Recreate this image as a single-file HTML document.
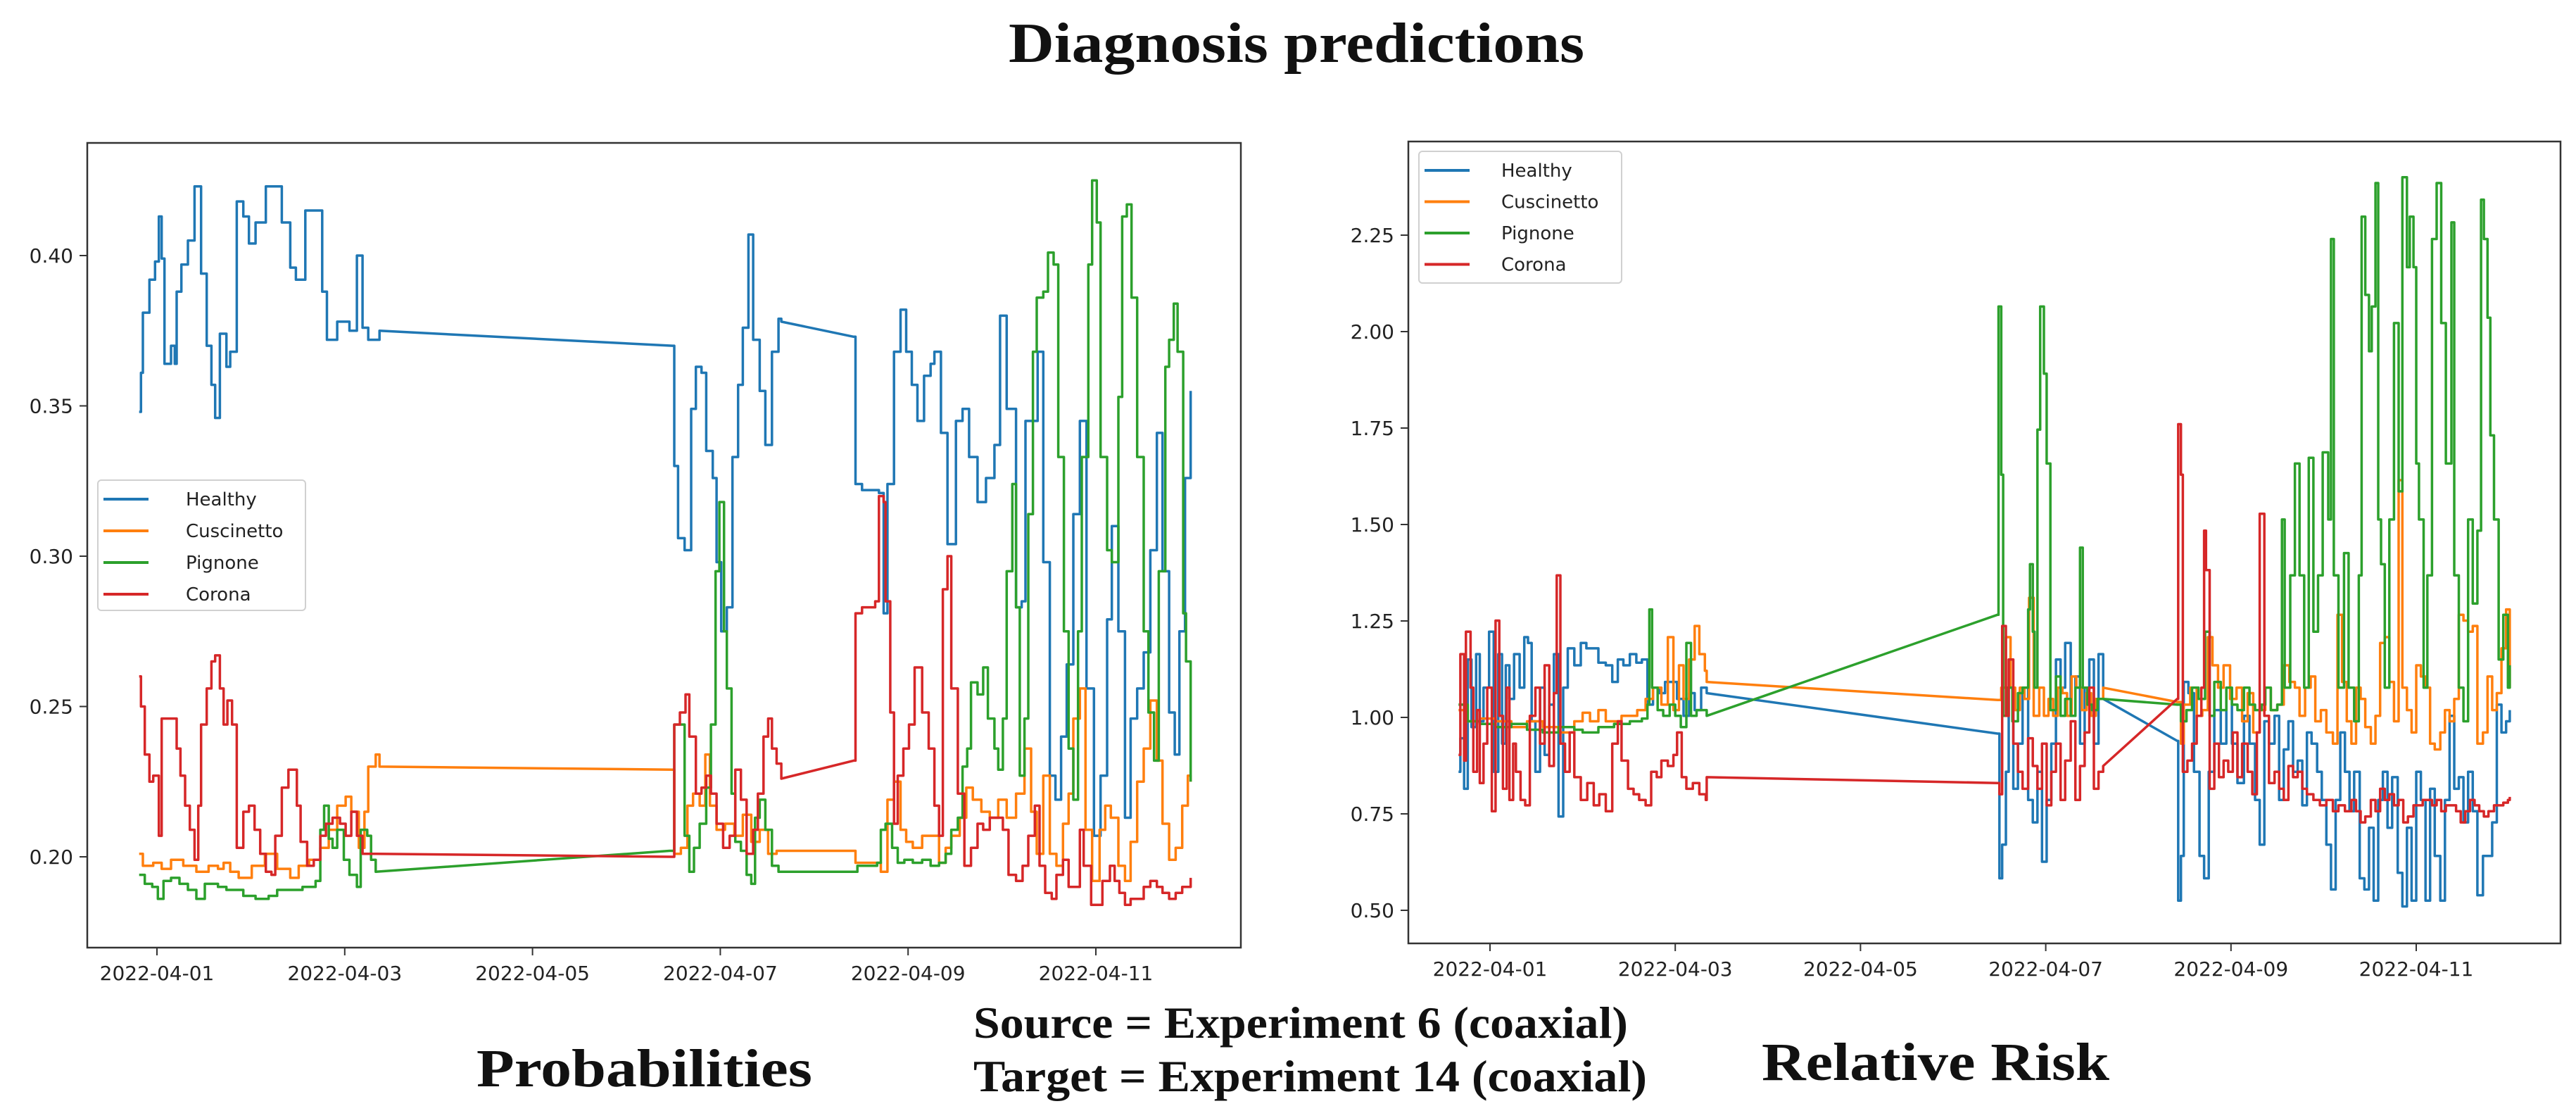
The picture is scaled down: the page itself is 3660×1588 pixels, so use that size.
<!DOCTYPE html>
<html><head><meta charset="utf-8">
<style>
html,body{margin:0;padding:0;background:#fff;}
svg{display:block;}
</style></head>
<body>
<svg id="fig" xmlns="http://www.w3.org/2000/svg" width="3660" height="1588" viewBox="0 0 3660 1588">
<rect width="3660" height="1588" fill="#fff"/>
<text x="1433" y="88" textLength="818" lengthAdjust="spacingAndGlyphs" font-family="Liberation Serif, serif" font-weight="bold" font-size="80" fill="#111">Diagnosis predictions</text>
<text x="677" y="1543" textLength="477" lengthAdjust="spacingAndGlyphs" font-family="Liberation Serif, serif" font-weight="bold" font-size="76" fill="#111">Probabilities</text>
<text x="1383" y="1474" textLength="930" lengthAdjust="spacingAndGlyphs" font-family="Liberation Serif, serif" font-weight="bold" font-size="64" fill="#111">Source = Experiment 6 (coaxial)</text>
<text x="1383" y="1550" textLength="957" lengthAdjust="spacingAndGlyphs" font-family="Liberation Serif, serif" font-weight="bold" font-size="64" fill="#111">Target = Experiment 14 (coaxial)</text>
<text x="2503" y="1534" textLength="494" lengthAdjust="spacingAndGlyphs" font-family="Liberation Serif, serif" font-weight="bold" font-size="76" fill="#111">Relative Risk</text>
<g id="left"></g>
<g id="right"></g>
</svg>
<script>
const seriesNames = ["Healthy","Cuscinetto","Pignone","Corona"];
const seriesColors = ["#1f77b4","#ff7f0e","#2ca02c","#d62728"];
const dateTicks = ["2022-04-01","2022-04-03","2022-04-05","2022-04-07","2022-04-09","2022-04-11"];
const dateTickDays = [0,2,4,6,8,10];
const probTicks = [0.20,0.25,0.30,0.35,0.40];
const riskTicks = [0.50,0.75,1.00,1.25,1.50,1.75,2.00,2.25];

// Probabilities (x = days since 2022-04-01, y = probability)
const probHealthy = [[-0.19,.348],[-0.17,.361],[-0.15,.381],[-0.08,.392],[-0.02,.398],[0.02,.413],[0.05,.399],[0.08,.364],[0.15,.370],[0.19,.364],[0.21,.388],[0.26,.397],[0.33,.405],[0.40,.423],[0.45,.423],[0.47,.394],[0.53,.370],[0.58,.357],[0.62,.346],[0.67,.374],[0.74,.363],[0.78,.368],[0.85,.418],[0.92,.413],[0.98,.404],[1.05,.411],[1.16,.423],[1.28,.423],[1.33,.411],[1.42,.396],[1.48,.392],[1.58,.415],[1.72,.415],[1.76,.388],[1.81,.372],[1.92,.378],[2.05,.375],[2.13,.400],[2.19,.376],[2.25,.372],[2.37,.375],[5.49,.370],[5.51,.330],[5.55,.306],[5.62,.302],[5.69,.349],[5.74,.363],[5.80,.361],[5.85,.335],[5.92,.326],[5.96,.298],[6.01,.275],[6.07,.283],[6.13,.333],[6.19,.357],[6.24,.376],[6.30,.407],[6.35,.372],[6.42,.355],[6.48,.337],[6.55,.368],[6.62,.379],[6.65,.378],[7.42,.373],[7.44,.324],[7.51,.322],[7.69,.321],[7.74,.281],[7.78,.324],[7.85,.368],[7.92,.382],[7.98,.368],[8.04,.357],[8.10,.345],[8.17,.360],[8.24,.364],[8.28,.368],[8.35,.341],[8.42,.304],[8.51,.345],[8.58,.349],[8.65,.333],[8.74,.318],[8.83,.326],[8.92,.337],[8.98,.380],[9.05,.349],[9.15,.283],[9.21,.285],[9.25,.345],[9.33,.345],[9.38,.368],[9.44,.298],[9.51,.227],[9.57,.219],[9.63,.240],[9.69,.264],[9.76,.314],[9.83,.345],[9.90,.256],[9.98,.207],[10.05,.227],[10.12,.279],[10.17,.310],[10.24,.275],[10.31,.213],[10.37,.246],[10.44,.256],[10.51,.268],[10.58,.302],[10.65,.341],[10.71,.295],[10.78,.248],[10.84,.234],[10.89,.275],[10.95,.326],[11.01,.355]];
const probCuscinetto = [[-0.19,.201],[-0.15,.197],[-0.04,.198],[0.05,.196],[0.15,.199],[0.28,.197],[0.42,.195],[0.55,.197],[0.65,.196],[0.71,.198],[0.78,.195],[0.87,.193],[1.01,.197],[1.15,.201],[1.28,.196],[1.42,.193],[1.51,.197],[1.62,.199],[1.74,.203],[1.83,.209],[1.92,.217],[2.01,.220],[2.07,.215],[2.15,.203],[2.21,.215],[2.25,.230],[2.33,.234],[2.37,.230],[5.49,.229],[5.51,.201],[5.58,.203],[5.65,.217],[5.71,.221],[5.78,.217],[5.84,.234],[5.89,.217],[5.96,.209],[6.05,.211],[6.15,.207],[6.24,.214],[6.33,.205],[6.42,.209],[6.51,.201],[6.60,.202],[7.42,.202],[7.44,.198],[7.67,.198],[7.71,.195],[7.78,.219],[7.85,.225],[7.92,.209],[7.98,.205],[8.05,.203],[8.15,.207],[8.24,.207],[8.33,.198],[8.40,.203],[8.46,.207],[8.55,.213],[8.62,.223],[8.69,.219],[8.78,.215],[8.87,.213],[8.96,.219],[9.05,.213],[9.15,.221],[9.24,.236],[9.31,.215],[9.37,.201],[9.44,.227],[9.51,.201],[9.58,.197],[9.65,.211],[9.71,.221],[9.76,.246],[9.83,.256],[9.89,.209],[9.96,.192],[10.04,.209],[10.10,.217],[10.16,.213],[10.24,.197],[10.31,.192],[10.37,.205],[10.44,.225],[10.51,.236],[10.58,.252],[10.65,.232],[10.71,.211],[10.78,.199],[10.85,.203],[10.92,.217],[10.98,.227],[11.01,.225]];
const probPignone = [[-0.19,.194],[-0.13,.191],[-0.05,.190],[0.01,.186],[0.07,.192],[0.15,.193],[0.24,.191],[0.33,.189],[0.42,.186],[0.51,.191],[0.65,.190],[0.74,.189],[0.83,.189],[0.92,.187],[1.05,.186],[1.19,.187],[1.28,.189],[1.42,.189],[1.55,.190],[1.69,.192],[1.74,.209],[1.78,.217],[1.83,.206],[1.87,.203],[1.92,.209],[1.99,.199],[2.05,.194],[2.13,.190],[2.17,.209],[2.24,.207],[2.28,.199],[2.33,.195],[5.46,.202],[5.49,.202],[5.51,.244],[5.58,.244],[5.62,.207],[5.67,.195],[5.72,.203],[5.78,.211],[5.85,.223],[5.90,.244],[5.95,.295],[5.99,.318],[6.04,.275],[6.07,.256],[6.12,.221],[6.16,.205],[6.22,.202],[6.28,.194],[6.33,.191],[6.37,.213],[6.42,.219],[6.48,.209],[6.55,.197],[6.62,.195],[7.42,.195],[7.46,.197],[7.67,.198],[7.71,.209],[7.76,.211],[7.83,.203],[7.89,.198],[7.96,.199],[8.05,.198],[8.15,.199],[8.24,.197],[8.33,.198],[8.40,.201],[8.46,.209],[8.53,.213],[8.58,.230],[8.63,.236],[8.67,.258],[8.74,.254],[8.80,.263],[8.85,.246],[8.92,.236],[8.96,.229],[9.01,.246],[9.05,.295],[9.11,.324],[9.15,.283],[9.19,.227],[9.24,.246],[9.28,.314],[9.33,.368],[9.37,.386],[9.44,.388],[9.49,.401],[9.55,.397],[9.60,.333],[9.66,.275],[9.71,.236],[9.76,.219],[9.81,.275],[9.85,.333],[9.92,.397],[9.96,.425],[10.01,.411],[10.05,.333],[10.12,.302],[10.17,.298],[10.24,.353],[10.28,.413],[10.33,.417],[10.38,.386],[10.44,.333],[10.51,.275],[10.56,.248],[10.62,.232],[10.67,.295],[10.74,.363],[10.78,.372],[10.83,.384],[10.87,.368],[10.93,.281],[10.96,.265],[11.01,.225]];
const probCorona = [[-0.19,.260],[-0.17,.250],[-0.13,.234],[-0.08,.225],[-0.04,.227],[0.02,.207],[0.05,.246],[0.11,.246],[0.17,.246],[0.21,.236],[0.25,.227],[0.30,.217],[0.35,.209],[0.40,.199],[0.44,.217],[0.47,.244],[0.53,.256],[0.58,.265],[0.62,.267],[0.67,.256],[0.71,.244],[0.75,.252],[0.80,.244],[0.85,.203],[0.92,.215],[0.98,.217],[1.04,.209],[1.10,.201],[1.16,.195],[1.22,.194],[1.26,.207],[1.33,.223],[1.40,.229],[1.45,.229],[1.49,.217],[1.53,.205],[1.60,.197],[1.67,.199],[1.74,.207],[1.80,.211],[1.87,.213],[1.95,.211],[2.01,.207],[2.07,.215],[2.13,.207],[2.19,.201],[2.25,.201],[2.33,.201],[5.49,.200],[5.51,.244],[5.57,.248],[5.63,.254],[5.67,.240],[5.74,.221],[5.80,.223],[5.85,.227],[5.90,.221],[5.96,.211],[6.03,.203],[6.10,.207],[6.16,.229],[6.22,.219],[6.28,.201],[6.35,.209],[6.40,.221],[6.46,.240],[6.51,.246],[6.55,.236],[6.60,.231],[6.65,.226],[7.42,.232],[7.44,.281],[7.51,.283],[7.65,.285],[7.69,.320],[7.74,.318],[7.76,.285],[7.81,.248],[7.85,.211],[7.89,.227],[7.95,.236],[8.01,.244],[8.07,.263],[8.15,.248],[8.22,.236],[8.28,.217],[8.33,.207],[8.37,.289],[8.42,.300],[8.46,.256],[8.53,.221],[8.60,.197],[8.67,.203],[8.74,.211],[8.80,.209],[8.87,.213],[8.95,.213],[9.01,.209],[9.07,.194],[9.15,.192],[9.22,.197],[9.28,.207],[9.35,.217],[9.40,.197],[9.46,.188],[9.53,.186],[9.58,.194],[9.65,.199],[9.71,.190],[9.78,.190],[9.83,.209],[9.87,.197],[9.95,.184],[10.01,.184],[10.07,.192],[10.15,.197],[10.20,.192],[10.25,.188],[10.31,.184],[10.37,.186],[10.44,.186],[10.51,.190],[10.58,.192],[10.65,.190],[10.71,.188],[10.78,.186],[10.85,.188],[10.92,.190],[11.01,.193]];

// Relative risk
const riskHealthy = [[-0.34,.859],[-0.32,.946],[-0.28,.815],[-0.24,1.150],[-0.20,.975],[-0.15,1.164],[-0.11,.990],[-0.07,1.077],[-0.01,1.222],[0.04,.859],[0.09,1.164],[0.13,.932],[0.17,1.135],[0.21,1.048],[0.26,1.164],[0.32,1.077],[0.37,1.208],[0.41,1.193],[0.45,.990],[0.49,.859],[0.54,1.077],[0.59,.903],[0.64,1.033],[0.69,1.164],[0.74,.743],[0.79,1.077],[0.84,1.179],[0.91,1.135],[0.98,1.193],[1.04,1.179],[1.10,1.179],[1.17,1.142],[1.25,1.135],[1.32,1.092],[1.38,1.150],[1.44,1.135],[1.51,1.164],[1.58,1.142],[1.64,1.150],[1.70,1.033],[1.76,1.077],[1.83,1.063],[1.89,1.092],[1.95,1.092],[2.02,1.048],[2.09,1.004],[2.15,1.063],[2.21,1.019],[2.28,1.077],[2.34,1.063],[5.48,.958],[5.50,.583],[5.53,.670],[5.57,.859],[5.60,1.077],[5.65,.815],[5.70,.932],[5.75,1.077],[5.81,.786],[5.86,.728],[5.91,.859],[5.96,.626],[6.01,.786],[6.06,.932],[6.11,1.150],[6.16,1.077],[6.21,1.193],[6.27,1.004],[6.32,1.106],[6.37,.932],[6.42,1.077],[6.47,1.150],[6.52,.932],[6.57,1.164],[6.62,1.048],[7.42,.939],[7.43,.525],[7.46,.641],[7.49,1.092],[7.54,1.063],[7.60,.859],[7.66,.641],[7.71,.583],[7.76,.859],[7.82,1.019],[7.89,.932],[7.95,1.077],[8.01,.932],[8.07,.830],[8.14,1.004],[8.20,.932],[8.26,.786],[8.31,.670],[8.36,.990],[8.41,.932],[8.47,1.004],[8.52,.786],[8.57,.917],[8.62,.990],[8.67,.859],[8.72,.888],[8.77,.772],[8.82,.961],[8.87,.932],[8.93,.859],[8.98,.786],[9.03,.670],[9.08,.554],[9.13,.786],[9.18,.961],[9.23,.859],[9.28,.757],[9.33,.859],[9.39,.583],[9.44,.554],[9.49,.714],[9.54,.525],[9.59,.786],[9.64,.859],[9.69,.714],[9.74,.845],[9.80,.597],[9.85,.510],[9.90,.714],[9.95,.525],[10.00,.859],[10.05,.786],[10.10,.525],[10.15,.815],[10.20,.641],[10.26,.525],[10.31,.786],[10.36,1.004],[10.41,.815],[10.46,.845],[10.51,.728],[10.56,.859],[10.61,.757],[10.66,.539],[10.72,.641],[10.77,.641],[10.82,.728],[10.87,1.033],[10.92,.961],[10.97,.990],[11.01,1.019]];
const riskCuscinetto = [[-0.34,1.019],[-0.24,.990],[-0.11,.997],[0.06,.990],[0.23,.975],[0.40,.990],[0.57,.975],[0.74,.961],[0.91,.990],[1.00,1.012],[1.08,.990],[1.17,1.019],[1.25,.990],[1.42,1.004],[1.59,1.019],[1.68,1.048],[1.76,1.077],[1.85,1.033],[1.92,1.208],[1.98,1.019],[2.04,1.135],[2.09,1.048],[2.15,1.150],[2.21,1.237],[2.26,1.164],[2.32,1.121],[2.34,1.092],[5.48,1.045],[5.52,1.077],[5.57,1.208],[5.62,1.077],[5.67,1.019],[5.72,1.077],[5.77,1.048],[5.82,1.310],[5.87,1.004],[5.93,1.077],[5.98,1.004],[6.03,1.048],[6.08,1.004],[6.13,1.077],[6.18,1.063],[6.23,1.004],[6.28,1.106],[6.33,1.077],[6.39,1.019],[6.44,1.063],[6.49,1.004],[6.54,1.048],[6.62,1.077],[7.42,1.040],[7.46,.932],[7.49,1.033],[7.56,1.077],[7.63,1.004],[7.69,1.019],[7.75,1.208],[7.80,1.135],[7.86,1.077],[7.92,1.135],[7.99,1.048],[8.06,1.077],[8.12,.990],[8.18,1.063],[8.24,.961],[8.31,1.019],[8.37,1.077],[8.43,1.019],[8.50,1.033],[8.57,1.135],[8.63,1.092],[8.69,1.077],[8.74,1.004],[8.80,1.077],[8.86,1.106],[8.91,.990],[8.97,1.019],[9.03,.961],[9.10,.932],[9.15,1.266],[9.20,1.092],[9.25,.990],[9.30,.932],[9.35,1.077],[9.40,1.048],[9.45,.975],[9.51,.932],[9.56,1.004],[9.61,1.193],[9.66,1.208],[9.71,1.092],[9.76,.990],[9.81,1.615],[9.85,1.077],[9.90,1.019],[9.95,.961],[10.00,1.135],[10.05,1.106],[10.10,1.077],[10.15,.932],[10.20,.917],[10.26,.961],[10.31,1.019],[10.36,.990],[10.41,1.048],[10.46,1.266],[10.51,1.251],[10.56,1.222],[10.61,1.237],[10.66,.932],[10.72,.961],[10.77,1.106],[10.82,1.019],[10.87,1.063],[10.92,1.179],[10.97,1.280],[11.01,1.077]];
const riskPignone = [[-0.34,1.033],[-0.24,.990],[-0.11,.983],[0.06,.975],[0.23,.983],[0.40,.968],[0.57,.961],[0.74,.975],[0.91,.968],[1.00,.961],[1.17,.975],[1.34,.983],[1.51,.990],[1.64,.997],[1.70,1.033],[1.72,1.280],[1.75,1.077],[1.81,1.019],[1.87,1.004],[1.94,1.033],[2.00,1.004],[2.06,.975],[2.12,1.193],[2.17,1.004],[2.23,1.019],[2.29,1.019],[2.34,1.004],[5.48,1.266],[5.49,2.065],[5.52,1.629],[5.54,1.004],[5.58,1.077],[5.64,.990],[5.70,1.063],[5.75,1.077],[5.81,1.280],[5.83,1.397],[5.86,1.222],[5.88,1.077],[5.91,1.746],[5.94,2.065],[5.98,1.891],[6.01,1.658],[6.05,1.019],[6.11,1.106],[6.16,1.004],[6.21,1.048],[6.27,1.004],[6.32,1.077],[6.37,1.440],[6.40,1.077],[6.45,1.033],[6.50,1.019],[6.56,1.048],[6.62,1.048],[7.42,1.033],[7.46,.990],[7.52,1.019],[7.58,1.077],[7.65,1.048],[7.72,1.222],[7.77,1.004],[7.82,1.092],[7.89,1.019],[7.95,1.077],[8.01,1.033],[8.07,1.019],[8.14,1.077],[8.20,1.033],[8.26,1.019],[8.33,1.033],[8.37,1.077],[8.43,1.019],[8.50,1.033],[8.55,1.513],[8.58,1.077],[8.64,1.368],[8.69,1.658],[8.74,1.368],[8.79,1.077],[8.84,1.673],[8.89,1.222],[8.94,1.368],[8.99,1.687],[9.05,1.513],[9.08,2.240],[9.11,1.368],[9.16,1.077],[9.22,1.426],[9.27,1.077],[9.33,.990],[9.38,1.368],[9.41,2.298],[9.45,2.095],[9.49,1.949],[9.52,2.065],[9.56,2.385],[9.59,1.513],[9.62,1.397],[9.66,1.077],[9.71,1.513],[9.76,2.022],[9.81,1.586],[9.85,2.400],[9.90,2.167],[9.93,2.298],[9.97,2.167],[10.00,1.658],[10.03,1.513],[10.08,1.077],[10.12,1.368],[10.17,2.240],[10.22,2.385],[10.27,2.022],[10.32,1.658],[10.38,2.283],[10.41,1.368],[10.46,1.077],[10.51,.990],[10.56,1.513],[10.61,1.295],[10.66,1.484],[10.70,2.342],[10.73,2.240],[10.77,2.036],[10.80,1.731],[10.84,1.513],[10.89,1.150],[10.94,1.266],[10.99,1.077],[11.01,1.135]];
const riskCorona = [[-0.34,.903],[-0.32,1.164],[-0.28,.888],[-0.26,1.222],[-0.21,1.077],[-0.18,.859],[-0.14,1.019],[-0.11,.830],[-0.07,.932],[-0.03,1.077],[0.02,.757],[0.06,1.251],[0.10,1.004],[0.14,.815],[0.18,1.077],[0.21,.786],[0.25,.932],[0.28,.859],[0.33,.786],[0.38,.772],[0.43,1.004],[0.49,1.077],[0.54,.932],[0.59,1.135],[0.64,.874],[0.69,1.063],[0.72,1.368],[0.76,.932],[0.81,.859],[0.86,.961],[0.91,.845],[0.98,.786],[1.05,.830],[1.12,.772],[1.18,.801],[1.25,.757],[1.32,.932],[1.38,.990],[1.42,.888],[1.49,.815],[1.55,.801],[1.61,.786],[1.68,.772],[1.74,.859],[1.80,.845],[1.85,.888],[1.92,.874],[1.98,.903],[2.02,.961],[2.07,.845],[2.12,.815],[2.19,.830],[2.26,.801],[2.33,.786],[2.34,.845],[5.48,.830],[5.50,.801],[5.53,1.237],[5.57,1.004],[5.60,1.150],[5.65,.932],[5.70,.859],[5.75,.815],[5.81,.946],[5.86,.874],[5.91,.815],[5.96,.932],[6.01,.772],[6.06,.859],[6.11,.932],[6.16,.786],[6.21,.888],[6.27,.990],[6.32,.786],[6.37,.874],[6.42,.961],[6.47,1.077],[6.52,.815],[6.57,.859],[6.62,.874],[7.42,1.048],[7.43,1.760],[7.46,1.629],[7.48,.859],[7.53,.888],[7.58,.932],[7.63,1.004],[7.68,1.077],[7.71,1.484],[7.73,1.382],[7.77,.815],[7.82,.932],[7.87,.845],[7.92,.888],[7.97,.859],[8.02,.961],[8.07,.845],[8.12,.932],[8.18,.859],[8.23,.801],[8.28,.961],[8.31,1.528],[8.36,1.004],[8.41,.830],[8.47,.859],[8.52,.815],[8.57,.786],[8.62,.874],[8.67,.845],[8.72,.859],[8.77,.815],[8.82,.801],[8.89,.786],[8.96,.772],[9.03,.786],[9.10,.757],[9.16,.772],[9.23,.757],[9.30,.786],[9.35,.757],[9.40,.728],[9.45,.743],[9.51,.786],[9.56,.757],[9.61,.815],[9.66,.786],[9.71,.801],[9.76,.772],[9.81,.786],[9.86,.728],[9.91,.743],[9.97,.772],[10.02,.772],[10.07,.786],[10.12,.786],[10.17,.772],[10.22,.786],[10.27,.757],[10.32,.772],[10.38,.772],[10.43,.757],[10.48,.728],[10.53,.757],[10.58,.786],[10.63,.772],[10.68,.757],[10.73,.743],[10.78,.757],[10.84,.772],[10.89,.772],[10.94,.779],[10.99,.786],[11.01,.794]];

const NS = "http://www.w3.org/2000/svg";
function mk(tag, attrs, parent){
  const e = document.createElementNS(NS, tag);
  for (const k in attrs) e.setAttribute(k, attrs[k]);
  parent.appendChild(e);
  return e;
}

function drawChart(g, cfg){
  const xs = d => cfg.x0 + d * cfg.pxPerDay;
  const ys = v => cfg.yRef + (cfg.vRef - v) * cfg.pxPerUnit;
  cfg.series.forEach((s, i) => {
    const pts = [];
    s.forEach((pt, j) => {
      if (j > 0 && pt[0] - s[j-1][0] < 0.3) {
        pts.push(xs(pt[0]).toFixed(1)+","+ys(s[j-1][1]).toFixed(1));
      }
      pts.push(xs(pt[0]).toFixed(1)+","+ys(pt[1]).toFixed(1));
    });
    const p = mk("polyline", {points: pts.join(" "),
      fill:"none", stroke: seriesColors[i], "stroke-width":"3.5", "stroke-linejoin":"round"}, g);
    
    
  });
  const fr = mk("rect", {x:cfg.L, y:cfg.T, width:cfg.R-cfg.L, height:cfg.B-cfg.T, fill:"none", stroke:"#333", "stroke-width":"2.5"}, g);
  
  
  dateTicks.forEach((lab, i) => {
    const x = xs(dateTickDays[i]);
    const t = mk("line", {x1:x, x2:x, y1:cfg.B, y2:cfg.B+11, stroke:"#333", "stroke-width":"2"}, g);
    
    
    const tx = mk("text", {x:x, y:cfg.B+46, "text-anchor":"middle", "font-family":"DejaVu Sans, sans-serif", "font-size":"28", fill:"#222"}, g);
    tx.textContent = lab;
    
    
  });
  cfg.yTicks.forEach(v => {
    const y = ys(v);
    const t = mk("line", {x1:cfg.L-11, x2:cfg.L, y1:y, y2:y, stroke:"#333", "stroke-width":"2"}, g);
    
    
    const tx = mk("text", {x:cfg.L-20, y:y+10, "text-anchor":"end", "font-family":"DejaVu Sans, sans-serif", "font-size":"28", fill:"#222"}, g);
    tx.textContent = v.toFixed(2);
    
    
  });
  const lg = mk("g", {}, g);
  
  
  mk("rect", {x:cfg.legX, y:cfg.legY, width:cfg.legW, height:cfg.legH, rx:"5", fill:"#fff", "fill-opacity":"0.85", stroke:"#d0d0d0", "stroke-width":"2"}, lg);
  seriesNames.forEach((n, i) => {
    const cy = cfg.legY + 27 + i * cfg.legStep;
    const ln = mk("line", {x1:cfg.legX+8, x2:cfg.legX+72, y1:cy, y2:cy, stroke:seriesColors[i], "stroke-width":"4"}, lg);
    
    
    const tx = mk("text", {x:cfg.legX+cfg.legTextDx, y:cy+9, "font-family":"DejaVu Sans, sans-serif", "font-size":"26", fill:"#222"}, lg);
    tx.textContent = n;
    
    
  });
}

drawChart(document.getElementById("left"), {
  prefix:"prob", L:124, R:1763, T:203, B:1346,
  x0:223, pxPerDay:133.4, yRef:363, vRef:0.40, pxPerUnit:4270,
  yTicks: probTicks,
  series:[probHealthy, probCuscinetto, probPignone, probCorona],
  legX:139, legY:682, legW:295, legH:185, legStep:45, legTextDx:125
});
drawChart(document.getElementById("right"), {
  prefix:"risk", L:2001, R:3638, T:201, B:1340,
  x0:2117, pxPerDay:131.6, yRef:334, vRef:2.25, pxPerUnit:548,
  yTicks: riskTicks,
  series:[riskHealthy, riskCuscinetto, riskPignone, riskCorona],
  legX:2016, legY:215, legW:288, legH:187, legStep:44.5, legTextDx:117
});
</script>
</body></html>
